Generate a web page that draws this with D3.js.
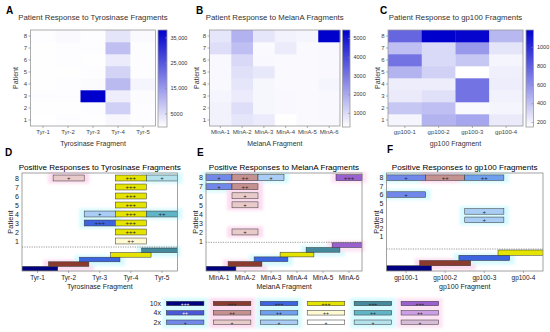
<!DOCTYPE html>
<html><head><meta charset="utf-8">
<script src="https://cdn.jsdelivr.net/npm/d3@7"></script>
<style>body{margin:0;background:#fff}svg{display:block;font-family:"Liberation Sans",Arial,sans-serif}</style>
</head><body><svg id="c" width="550" height="332"></svg>
<script>
// ---------------- DATA ----------------
const patients = [1, 2, 3, 4, 5, 6, 7, 8];
const tyrFragments = ["Tyr-1", "Tyr-2", "Tyr-3", "Tyr-4", "Tyr-5"];
const mlnFragments = ["MlnA-1", "MlnA-2", "MlnA-3", "MlnA-4", "MlnA-5", "MlnA-6"];
const gpFragments = ["gp100-1", "gp100-2", "gp100-3", "gp100-4"];

// heat values: one array per fragment, patients 1..8
const tyrHeat = [
  [0, 150, 250, 200, 100, 150, 150, 250],
  [250, 200, 300, 250, 200, 250, 300, 900],
  [200, 250, 37900, 600, 250, 200, 250, 250],
  [1200, 7000, 2700, 10300, 6500, 3000, 9500, 3800],
  [300, 250, 500, 1500, 300, 300, 300, 700]
];
const mlnHeat = [
  [560, 560, 500, 450, 450, 450, 970, 810],
  [810, 970, 710, 810, 920, 1070, 1580, 1840],
  [710, 480, 480, 480, 760, 450, 400, 810],
  [300, 450, 450, 430, 430, 430, 710, 560],
  [420, 420, 420, 420, 420, 420, 430, 500],
  [450, 450, 450, 500, 450, 450, 450, 5430]
];
const gpHeat = [
  [198, 382, 240, 230, 464, 720, 413, 770],
  [464, 413, 280, 230, 340, 310, 310, 1181],
  [515, 178, 720, 720, 157, 382, 567, 1160],
  [240, 198, 208, 230, 218, 198, 260, 444]
];

const tyrCbTicks = [5000, 15000, 25000, 35000];
const tyrCbLabels = ["5000", "15,000", "25,000", "35,000"];
const mlnCbTicks = [1000, 2000, 3000, 4000, 5000];
const mlnCbLabels = ["1000", "2000", "3000", "4000", "5000"];
const gpCbTicks = [200, 400, 600, 800, 1000];
const gpCbLabels = ["200", "400", "600", "800", "1000"];

// positive responses: [fragment index, patient, level (1="+",2="++",3="+++")]
const tyrResponses = [[1,8,1],[3,8,3],[4,8,1],[3,7,3],[3,6,3],[3,5,3],[2,4,1],[3,4,3],[4,4,2],[2,3,3],[3,3,3],[3,2,3],[3,1,2]];
const mlnResponses = [[0,8,1],[1,8,2],[2,8,1],[5,8,3],[0,7,1],[1,7,2],[1,6,1],[1,5,1],[1,2,1]];
const gpResponses = [[0,8,1],[1,8,2],[2,8,2],[0,6,1],[2,4,1],[2,3,1]];

const levelSymbols = ["+", "++", "+++"];
const legendLabels = ["10x", "4x", "2x"];
const legendLevels = [3, 2, 1];

// ---------------- STYLE ----------------
const familyColors = [ // [2x, 4x, 10x]
  ["#7088ea", "#4a58d8", "#000080"],
  ["#e8caca", "#c49090", "#8b3a2e"],
  ["#a9cdf5", "#6ea0ee", "#3d64e0"],
  ["#ffffff", "#fffad2", "#e4e400"],
  ["#b4e2ec", "#5fb4c6", "#458a9c"],
  ["#d8bcd8", "#cc9ee6", "#9a60d0"]
];
const glowColors = ["#d6faff", "#fddcf0", "#d6faff", null, "#d6faff", "#fde4f4"];
const textColor = (fam, lvl) => (fam === 0 && lvl >= 2) ? "#fff" : "#222";

const svg = d3.select("#c");
const defs = svg.append("defs");
defs.append("filter").attr("id", "blur").attr("x", "-50%").attr("y", "-50%").attr("width", "200%").attr("height", "200%")
  .append("feGaussianBlur").attr("stdDeviation", 1.6);

function letter(t, x, y) {
  svg.append("text").attr("x", x).attr("y", y).text(t)
    .attr("font-size", 10).attr("font-weight", "bold").attr("fill", "#000");
}

// ---------------- HEATMAPS ----------------
function heatmap(c, idx) {
  const g = svg.append("g");
  const x = d3.scaleBand().domain(c.frags).range([c.x0, c.x1]);
  const y = d3.scaleBand().domain(patients.slice().reverse()).range([c.y0, c.y1]);
  const ext = d3.extent(c.data.flat());
  const color = d3.scaleLinear().domain(ext).range(["#ffffff", "#0000cd"]);
  const cells = [];
  c.data.forEach((arr, i) => arr.forEach((v, j) => cells.push({f: c.frags[i], p: patients[j], v})));
  g.selectAll("rect.cell").data(cells).join("rect").attr("class", "cell")
    .attr("x", d => x(d.f)).attr("y", d => y(d.p))
    .attr("width", x.bandwidth() + 0.3).attr("height", y.bandwidth() + 0.3)
    .attr("fill", d => color(d.v));
  g.append("rect").attr("x", c.x0).attr("y", c.y0).attr("width", c.x1 - c.x0).attr("height", c.y1 - c.y0)
    .attr("fill", "none").attr("stroke", "#9a9a9a").attr("stroke-width", 0.8);

  const ya = g.append("g").attr("transform", `translate(${c.x0},0)`).call(d3.axisLeft(y).tickSize(2).tickPadding(1.5));
  const xa = g.append("g").attr("transform", `translate(0,${c.y1})`).call(d3.axisBottom(x).tickSize(2).tickPadding(2));
  [ya, xa].forEach(a => {
    a.select(".domain").remove();
    a.selectAll("line").attr("stroke", "#777").attr("stroke-width", 0.6);
    a.selectAll("text").attr("font-size", 6).attr("fill", "#444").attr("font-family", "Liberation Sans, Arial, sans-serif");
  });

  // colorbar
  const gid = "grad" + idx;
  const grad = defs.append("linearGradient").attr("id", gid).attr("x1", 0).attr("y1", 1).attr("x2", 0).attr("y2", 0);
  grad.append("stop").attr("offset", 0).attr("stop-color", "#ffffff");
  grad.append("stop").attr("offset", 1).attr("stop-color", "#0000cd");
  g.append("rect").attr("x", c.cbX).attr("y", c.y0).attr("width", c.cbW).attr("height", c.y1 - c.y0 + 1)
    .attr("fill", `url(#${gid})`).attr("stroke", "#9a9a9a").attr("stroke-width", 0.8);
  const cb = d3.scaleLinear().domain(ext).range([c.y1, c.y0]);
  const ca = g.append("g").attr("transform", `translate(${c.cbX + c.cbW},0)`)
    .call(d3.axisRight(cb).tickValues(c.cbTicks).tickFormat((d, i) => c.cbLabels[i]).tickSize(-2).tickPadding(3.5));
  ca.select(".domain").remove();
  ca.selectAll("line").attr("stroke", "#888").attr("stroke-width", 0.6);
  ca.selectAll("text").attr("font-size", 5.5).attr("fill", "#333").attr("font-family", "Liberation Sans, Arial, sans-serif");

  const cx = (c.x0 + c.x1) / 2;
  g.append("text").attr("x", cx).attr("y", 19.5).attr("text-anchor", "middle").attr("font-size", 7.8).attr("fill", "#333").text(c.title);
  g.append("text").attr("x", cx).attr("y", 146).attr("text-anchor", "middle").attr("font-size", 7).attr("fill", "#333").text(c.xTitle);
  g.append("text").attr("transform", `translate(${c.pX},${(c.y0 + c.y1) / 2}) rotate(-90)`).attr("text-anchor", "middle")
    .attr("dominant-baseline", "central").attr("font-size", 7).attr("fill", "#333").text("Patient");
  letter(c.letter, c.lx, 14);
}

heatmap({frags: tyrFragments, data: tyrHeat, x0: 30.5, x1: 155.5, y0: 30, y1: 126, cbX: 158, cbW: 9,
  cbTicks: tyrCbTicks, cbLabels: tyrCbLabels, title: "Patient Response to Tyrosinase Fragments",
  xTitle: "Tyrosinase Fragment", pX: 15.5, letter: "A", lx: 6}, 0);
heatmap({frags: mlnFragments, data: mlnHeat, x0: 209.5, x1: 340, y0: 30, y1: 126, cbX: 342.5, cbW: 7.5,
  cbTicks: mlnCbTicks, cbLabels: mlnCbLabels, title: "Patient Response to MelanA Fragments",
  xTitle: "MelanA Fragment", pX: 196, letter: "B", lx: 196}, 1);
heatmap({frags: gpFragments, data: gpHeat, x0: 388, x1: 523, y0: 30, y1: 126, cbX: 526, cbW: 7.5,
  cbTicks: gpCbTicks, cbLabels: gpCbLabels, title: "Patient Response to gp100 Fragments",
  xTitle: "gp100 Fragment", pX: 377, letter: "C", lx: 380}, 2);

// ---------------- RESPONSE PANELS ----------------
function responsePanel(c, idx) {
  const g = svg.append("g");
  const x = d3.scaleBand().domain(c.frags).range([c.x0, c.x1]);
  const y = d3.scaleLinear().domain([1, 8]).range([c.row1, c.row8]);
  const bw = x.bandwidth();
  const rowH = (c.row1 - c.row8) / 7;
  const barH = rowH * 0.66;
  const cid = "clip" + idx;
  defs.append("clipPath").attr("id", cid).append("rect")
    .attr("x", c.x0).attr("y", c.top).attr("width", c.x1 - c.x0).attr("height", c.bottom - c.top);

  const stairs = c.frags.map((f, i) => ({f, i,
    x: x(f) + bw / 2 - bw * 0.65, w: bw * 1.3,
    y: c.bottom - (i + 1) * c.step, h: c.step}));
  const bars = c.responses.map(([fi, p, lvl]) => ({fi, p, lvl,
    x: x(c.frags[fi]), w: bw, y: y(p) - barH / 2, h: barH}));

  // glows
  const glowG = g.append("g").attr("filter", "url(#blur)");
  glowG.selectAll("rect.sg").data(stairs.filter(d => glowColors[d.i] && d.i > 0)).join("rect")
    .attr("x", d => Math.max(d.x - 5, c.x0 - 3)).attr("y", d => d.y - 2)
    .attr("width", d => Math.min(d.x + d.w + 5, c.x1 + 3) - Math.max(d.x - 5, c.x0 - 3)).attr("height", d => d.h + 6)
    .attr("fill", d => glowColors[d.i]);
  glowG.selectAll("rect.rg").data(bars.filter(d => glowColors[d.fi])).join("rect")
    .attr("x", d => d.x - 5).attr("y", d => d.y - 2.5).attr("width", d => d.w + 10).attr("height", d => d.h + 5)
    .attr("fill", d => glowColors[d.fi]);

  const inner = g.append("g").attr("clip-path", `url(#${cid})`);
  inner.selectAll("rect.st").data(stairs).join("rect")
    .attr("x", d => d.x).attr("y", d => d.y).attr("width", d => d.w).attr("height", d => d.h)
    .attr("fill", d => familyColors[d.i][2]).attr("stroke", "#333").attr("stroke-width", 0.5);

  g.selectAll("rect.rb").data(bars).join("rect")
    .attr("x", d => d.x).attr("y", d => d.y).attr("width", d => d.w).attr("height", d => d.h)
    .attr("fill", d => familyColors[d.fi][d.lvl - 1]).attr("stroke", "#333").attr("stroke-width", 0.5);
  g.selectAll("text.rt").data(bars).join("text")
    .attr("x", d => d.x + d.w / 2).attr("y", d => d.y + d.h / 2 + 0.3)
    .attr("text-anchor", "middle").attr("dominant-baseline", "central")
    .attr("font-size", 6).attr("fill", d => textColor(d.fi, d.lvl)).text(d => levelSymbols[d.lvl - 1]);

  g.append("line").attr("x1", c.x0).attr("x2", c.x1).attr("y1", c.dashY).attr("y2", c.dashY)
    .attr("stroke", "#555").attr("stroke-width", 0.6).attr("stroke-dasharray", "1.2,1.2");
  g.append("rect").attr("x", c.x0).attr("y", c.top).attr("width", c.x1 - c.x0).attr("height", c.bottom - c.top)
    .attr("fill", "none").attr("stroke", "#8a8a8a").attr("stroke-width", 0.8);

  const ya = g.append("g").attr("transform", `translate(${c.x0},0)`)
    .call(d3.axisLeft(y).tickValues(patients).tickFormat(d3.format("d")).tickSize(0).tickPadding(3));
  const xa = g.append("g").attr("transform", `translate(0,${c.bottom})`).call(d3.axisBottom(x).tickSize(2).tickPadding(2));
  [ya, xa].forEach(a => {
    a.select(".domain").remove();
    a.selectAll("line").attr("stroke", "#777").attr("stroke-width", 0.6);
    a.selectAll("text").attr("fill", "#222").attr("font-family", "Liberation Sans, Arial, sans-serif");
  });
  ya.selectAll("text").attr("font-size", 7);
  xa.selectAll("text").attr("font-size", 6.5);

  const cx = (c.x0 + c.x1) / 2;
  g.append("text").attr("x", cx).attr("y", 170).attr("text-anchor", "middle").attr("font-size", 8.1).attr("fill", "#000").text(c.title);
  g.append("text").attr("x", cx).attr("y", 288.5).attr("text-anchor", "middle").attr("font-size", 7).attr("fill", "#222").text(c.xTitle);
  g.append("text").attr("transform", `translate(${c.pX},${(c.top + c.bottom) / 2}) rotate(-90)`).attr("text-anchor", "middle")
    .attr("dominant-baseline", "central").attr("font-size", 7.5).attr("fill", "#222").text("Patient");
  letter(c.letter, c.lx, c.ly);
}

responsePanel({frags: tyrFragments, responses: tyrResponses, x0: 22, x1: 177.5, top: 173, bottom: 271,
  row1: 241, row8: 178, dashY: 247, step: 4.6, title: "Positive Responses to Tyrosinase Fragments",
  xTitle: "Tyrosinase Fragment", pX: 10, letter: "D", lx: 5, ly: 156}, 0);
responsePanel({frags: mlnFragments, responses: mlnResponses, x0: 206, x1: 362, top: 173, bottom: 271,
  row1: 241, row8: 177.7, dashY: 242.3, step: 4.7, title: "Positive Responses to MelanA Fragments",
  xTitle: "MelanA Fragment", pX: 195, letter: "E", lx: 197, ly: 156}, 1);
responsePanel({frags: gpFragments, responses: gpResponses, x0: 386.5, x1: 543, top: 173, bottom: 271,
  row1: 236.7, row8: 177.7, dashY: 249, step: 5.25, title: "Positive Responses to gp100 Fragments",
  xTitle: "gp100 Fragment", pX: 376, letter: "F", lx: 387, ly: 153}, 2);

// ---------------- LEGEND ----------------
const lg = svg.append("g");
const lx = d3.scaleBand().domain(d3.range(familyColors.length)).range([164, 441]).paddingInner(0.2).paddingOuter(0.05);
const ly = d3.scalePoint().domain(legendLabels).range([303.5, 322.2]);
const lbw = lx.bandwidth(), lbh = 4.4;
lg.append("g").attr("filter", "url(#blur)").selectAll("rect").data(d3.range(familyColors.length).filter(i => glowColors[i])).join("rect")
  .attr("x", i => lx(i) - 4).attr("y", 298).attr("width", lbw + 8).attr("height", 30).attr("fill", i => glowColors[i]);
const items = [];
familyColors.forEach((fam, i) => legendLabels.forEach((lab, k) => items.push({i, lab, lvl: legendLevels[k]})));
lg.selectAll("rect.li").data(items).join("rect")
  .attr("x", d => lx(d.i)).attr("y", d => ly(d.lab) - lbh / 2).attr("width", lbw).attr("height", lbh)
  .attr("fill", d => familyColors[d.i][d.lvl - 1]).attr("stroke", "#333").attr("stroke-width", 0.5);
lg.selectAll("text.lt").data(items).join("text")
  .attr("x", d => lx(d.i) + lbw / 2).attr("y", d => ly(d.lab) + 0.3).attr("text-anchor", "middle").attr("dominant-baseline", "central")
  .attr("font-size", 5).attr("fill", d => textColor(d.i, d.lvl)).text(d => levelSymbols[d.lvl - 1]);
lg.selectAll("text.ll").data(legendLabels).join("text")
  .attr("x", 161).attr("y", d => ly(d)).attr("text-anchor", "end").attr("dominant-baseline", "central")
  .attr("font-size", 7).attr("fill", "#222").text(d => d);
</script></body></html>
